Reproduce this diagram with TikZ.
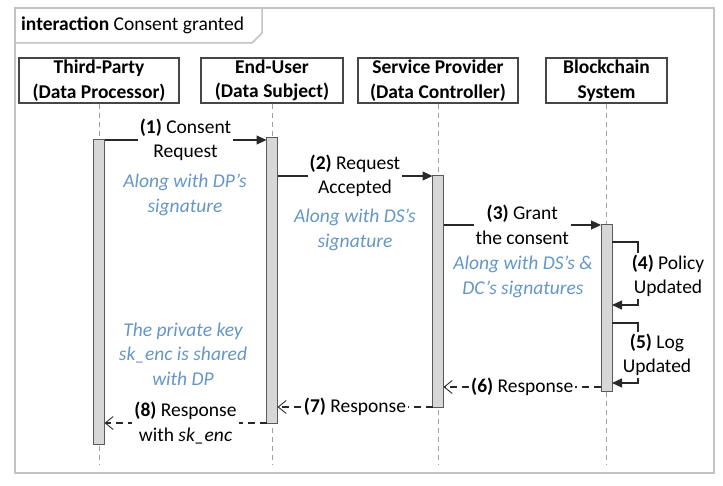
\documentclass[tikz,border=0pt]{standalone}
\usepackage{fontspec}
\setmainfont{Carlito}
\usetikzlibrary{arrows.meta, positioning}

\definecolor{framegray}{RGB}{195,195,195}
\definecolor{headgray}{RGB}{70,70,70}
\definecolor{barfill}{RGB}{215,215,215}
\definecolor{bargray}{RGB}{90,90,90}
\definecolor{lifegray}{RGB}{160,160,160}
\definecolor{msggray}{RGB}{40,40,40}
\definecolor{notecolor}{RGB}{100,150,200}

\newcommand{\diagfont}{\fontsize{19.5}{24.5}\selectfont}
\newlength{\barwidth}
\setlength{\barwidth}{11pt}
\newlength{\headboxheight}
\setlength{\headboxheight}{45pt}

\tikzstyle{frame} = [draw=framegray, line width=1.5pt]
\tikzstyle{head} = [rectangle, draw=headgray, line width=1.2pt, align=center, font=\diagfont\bfseries, minimum height=\headboxheight, inner sep=0pt]
\tikzstyle{bar} = [rectangle, draw=bargray, fill=barfill, line width=1pt, minimum width=\barwidth, inner sep=0pt, outer sep=0pt]
\tikzstyle{lifeline} = [draw=lifegray, line width=1pt, dash pattern=on 5pt off 4pt]
\tikzstyle{call} = [draw=msggray, line width=1.2pt, -{Triangle[length=10pt,width=9pt]}]
\tikzstyle{reply} = [draw=msggray, line width=1.1pt, dash pattern=on 7pt off 5pt, -{Straight Barb[length=8pt,width=13pt,line width=0.9pt]}]
\tikzstyle{msg} = [fill=white, align=center, inner sep=2pt, text=black]
\tikzstyle{note} = [align=center, text=notecolor, font=\diagfont\itshape]

\begin{document}
\begin{tikzpicture}[x=1pt, y=-1pt, font=\diagfont]
    \useasboundingbox (0,0) rectangle (723,486);

    % Frame
    \draw [frame] (15,8) rectangle (714,473);
    \draw [frame] (15,43) -- (252,43) -- (262,33) -- (262,8);
    \node (title) [anchor=west, inner sep=0pt] at (21,25) {\textbf{interaction} Consent granted};

    % Lifeline heads
    \node (third_party) [head, minimum width=160pt] at (99,80.5) {Third-Party\\(Data Processor)};
    \node (end_user) [head, minimum width=142pt] at (272,80.5) {End-User\\(Data Subject)};
    \node (provider) [head, minimum width=160pt] at (438,80.5) {Service Provider\\(Data Controller)};
    \node (blockchain) [head, minimum width=121pt] at (606.5,80.5) {Blockchain\\System};

    % Message heights
    \coordinate (bottom) at (0,465);
    \coordinate (y1) at (0,140);
    \coordinate (y2) at (0,176);
    \coordinate (y3) at (0,225);
    \coordinate (y4a) at (0,242);
    \coordinate (y4b) at (0,305);
    \coordinate (y5a) at (0,323);
    \coordinate (y5b) at (0,383);
    \coordinate (y6) at (0,387);
    \coordinate (y7) at (0,407);
    \coordinate (y8) at (0,423);

    % Lifelines
    \draw [lifeline] (third_party.south) -- (third_party.south |- bottom);
    \draw [lifeline] (end_user.south) -- (end_user.south |- bottom);
    \draw [lifeline] (provider.south) -- (provider.south |- bottom);
    \draw [lifeline] (blockchain.south) -- (blockchain.south |- bottom);

    % Activations
    \node (act1) [bar, anchor=north, minimum height=304pt] at (third_party.south |- y1) {};
    \node (act2) [bar, anchor=north, minimum height=285pt, yshift=2pt] at (end_user.south |- y1) {};
    \node (act3) [bar, anchor=north, minimum height=231pt] at (provider.south |- y2) {};
    \node (act4) [bar, anchor=north, minimum height=166pt] at (blockchain.south |- y3) {};

    % Notes
    \node (note_dp) [note] at (185,195) {Along with DP’s\\signature};
    \node (note_ds) [note] at (355,230) {Along with DS’s\\signature};
    \node (note_dc) [note] at (523,277) {Along with DS’s \&\\DC’s signatures};
    \node (note_key) [note] at (183,354) {The private key\\sk\_enc is shared\\with DP};

    % ==== Arrows
    % Requests
    \draw [call] (act1.east |- y1) -- node [msg] {\textbf{(1)} Consent\\Request} (act2.west |- y1);
    \draw [call] (act2.east |- y2) -- node [msg] {\textbf{(2)} Request\\Accepted} (act3.west |- y2);
    \draw [call] (act3.east |- y3) -- node [msg] {\textbf{(3)} Grant\\the consent} (act4.west |- y3);

    % Self calls
    \draw [call] (act4.east |- y4a) -- ++(26,0) |- (act4.east |- y4b);
    \node (policy) [msg] at (668,276) {\textbf{(4)} Policy\\Updated};
    \draw [call] (act4.east |- y5a) -- ++(26,0) |- (act4.east |- y5b);
    \node (log) [msg] at (657,355) {\textbf{(5)} Log\\Updated};

    % Responses
    \draw [reply] (act4.west |- y6) -- node [msg] {\textbf{(6)} Response} (act3.east |- y6);
    \draw [reply] (act3.west |- y7) -- node [msg] {\textbf{(7)} Response} (act2.east |- y7);
    \draw [reply] (act2.west |- y8) -- node [msg] {\textbf{(8)} Response\\with \textit{sk\_enc}} (act1.east |- y8);

\end{tikzpicture}
\end{document}
